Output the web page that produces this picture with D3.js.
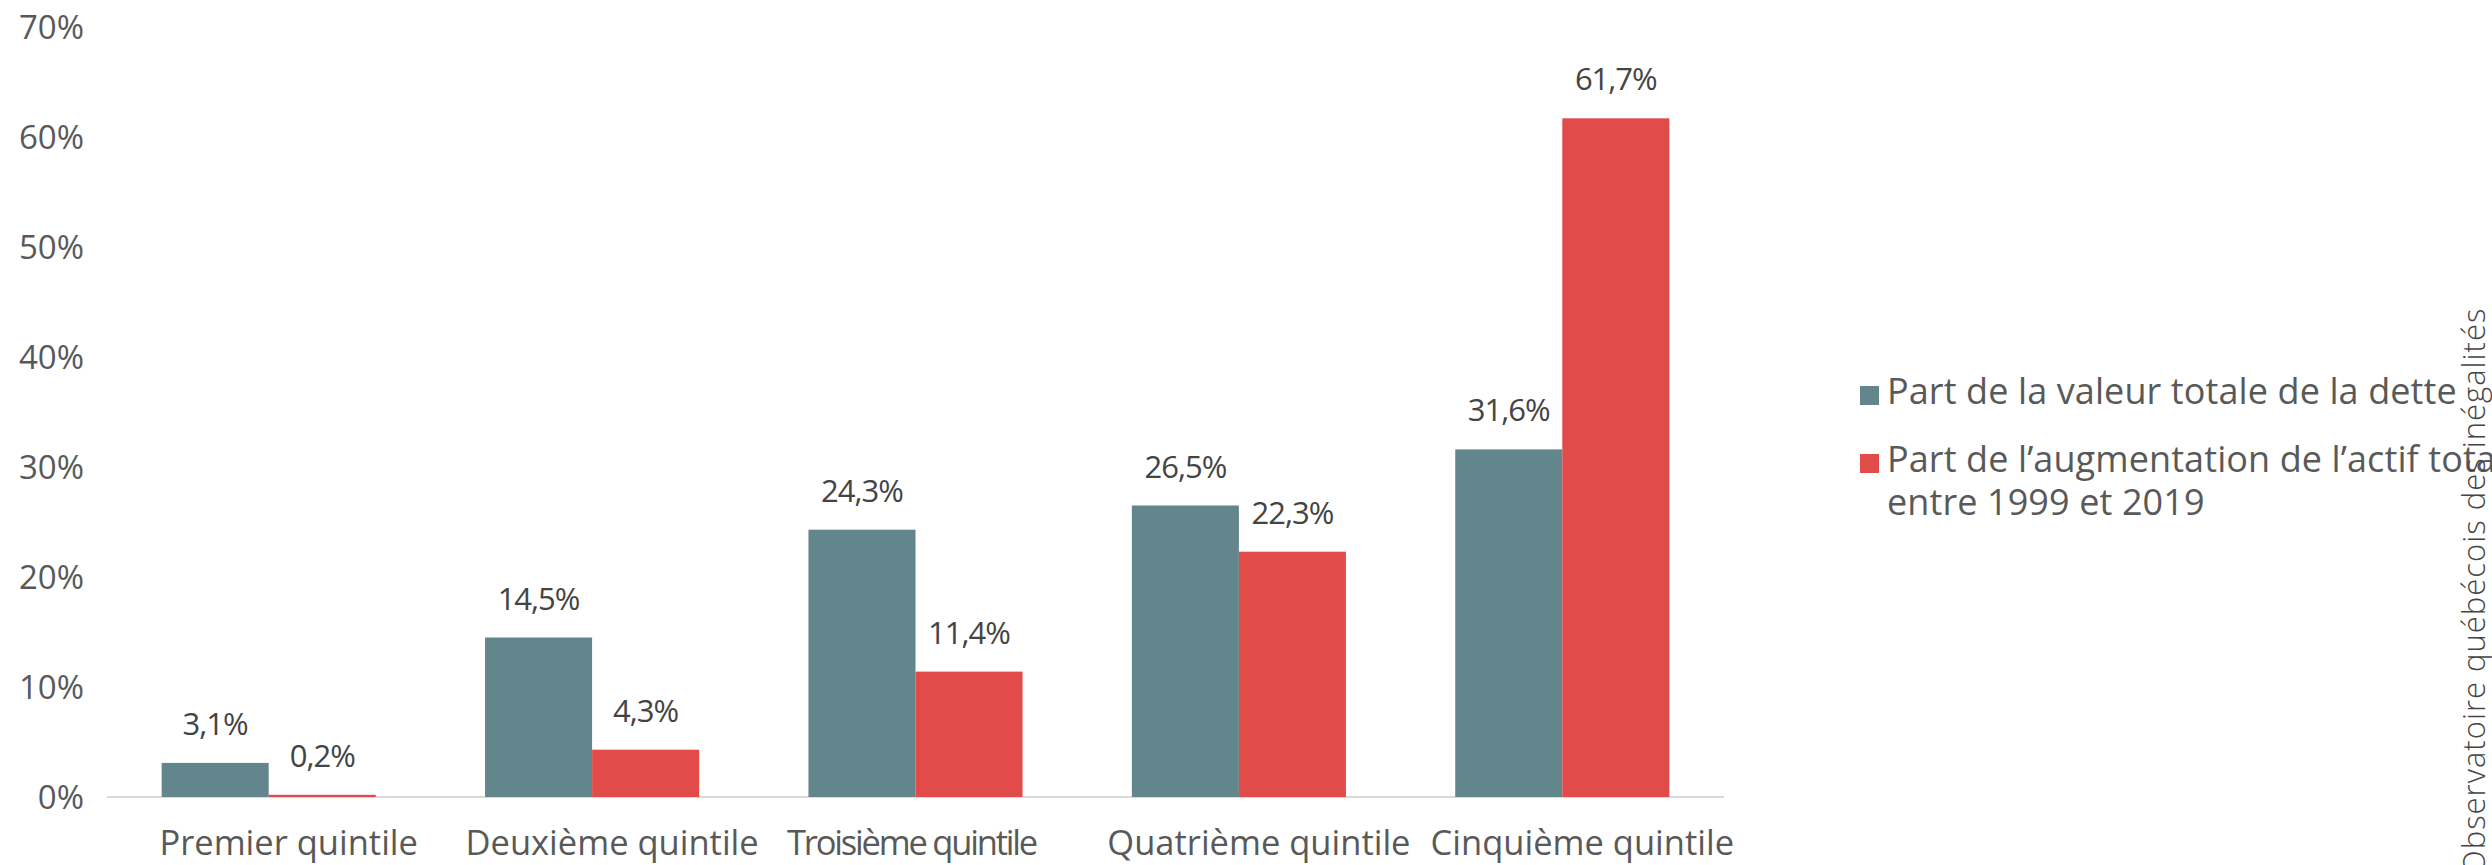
<!DOCTYPE html>
<html>
<head>
<meta charset="utf-8">
<script src="https://cdn.jsdelivr.net/npm/d3@7"></script>
<style>
  body{margin:0;background:#fff;}
  text{font-family:"Open Sans","Noto Sans",sans-serif;fill:#595959;}
</style>
</head>
<body>
<svg id="chart"></svg>
<script>
var quintiles=["Premier quintile","Deuxième quintile","Troisième quintile","Quatrième quintile","Cinquième quintile"]
var partDette=[3.1,14.5,24.3,26.5,31.6]
var partActif=[0.2,4.3,11.4,22.3,61.7]
var seriesNames=["Part de la valeur totale de la dette","Part de l’augmentation de l’actif total|entre 1999 et 2019"]
var seriesColors=["#62868c","#e14b4a"]
var yTicks=[0,10,20,30,40,50,60,70]

var screen={width:2492,height:865}
var svg=d3.select("#chart")
          .attr("width",screen.width)
          .attr("height",screen.height)

var x=d3.scaleBand()
        .domain(quintiles)
        .range([107,1724])
        .paddingInner(0.338)
        .paddingOuter(0.169)

var xInner=d3.scaleBand()
             .domain([0,1])
             .range([0,x.bandwidth()])

var y=d3.scaleLinear()
        .domain([0,70])
        .range([797,27])

var fmt=function(v){return d3.format(".1f")(v).replace(".",",")+"%";}

// y axis, labels only
var yAxis=svg.append("g")
             .attr("transform","translate(84,0)")
             .call(d3.axisLeft(y).tickValues(yTicks).tickSize(0).tickPadding(0)
                     .tickFormat(function(d){return d+"%";}))
yAxis.select(".domain").remove()
yAxis.selectAll("text")
     .attr("font-size",33)
     .attr("dy","0.36em")
     .style("font-family","\"Open Sans\",sans-serif")
     .style("fill","#595959")

// baseline
svg.append("line")
   .attr("x1",x.range()[0]).attr("x2",x.range()[1])
   .attr("y1",y(0)).attr("y2",y(0))
   .attr("stroke","#d9d9d9")
   .attr("stroke-width",2)

var rows=quintiles.map(function(q,i){return {q:q,vals:[partDette[i],partActif[i]]};})

var groups=svg.append("g")
              .selectAll("g")
              .data(rows)
              .enter()
              .append("g")
              .attr("transform",function(d){return "translate("+x(d.q)+",0)";})

groups.selectAll("rect")
      .data(function(d){return d.vals;})
      .enter()
      .append("rect")
      .attr("x",function(d,i){return xInner(i);})
      .attr("y",function(d){return y(d);})
      .attr("width",xInner.bandwidth())
      .attr("height",function(d){return y(0)-y(d);})
      .attr("fill",function(d,i){return seriesColors[i];})

groups.selectAll("text.val")
      .data(function(d){return d.vals;})
      .enter()
      .append("text")
      .classed("val",true)
      .text(fmt)
      .attr("x",function(d,i){return xInner(i)+xInner.bandwidth()/2;})
      .attr("y",function(d){return y(d)-28;})
      .attr("text-anchor","middle")
      .attr("font-size",31)
      .attr("letter-spacing",-1)
      .style("fill","#444")

// x labels (sit a bit right of the group centre, as in the original)
var xLabels=svg.append("g")
   .selectAll("text")
   .data(quintiles)
   .enter()
   .append("text")
   .text(function(d){return d;})
   .attr("x",function(d){return x(d)+x.bandwidth()/2+20;})
   .attr("y",855)
   .attr("text-anchor","middle")
   .attr("font-size",34.5)
// the third label is set tighter in the original
xLabels.filter(function(d,i){return i==2;})
       .attr("x",function(d){return x(d)+x.bandwidth()/2-4;})
       .attr("letter-spacing",-2.2)

// legend
var legend=svg.append("g")
var legendY=[404,472]
seriesNames.forEach(function(name,i)
{
  legend.append("rect")
        .attr("x",1860)
        .attr("y",legendY[i]-18)
        .attr("width",19)
        .attr("height",19)
        .attr("fill",seriesColors[i])
  name.split("|").forEach(function(line,j)
  {
    legend.append("text")
          .text(line)
          .attr("x",1887)
          .attr("y",legendY[i]+j*43)
          .attr("font-size",36)
          .attr("letter-spacing",0.1)
  })
})

// source credit, rotated
svg.append("text")
   .text("Observatoire québécois des inégalités")
   .attr("transform","translate(2485,874) rotate(-90)")
   .attr("font-size",31)
   .attr("font-weight",300)
   .attr("letter-spacing",1)
   .style("fill","#444")
</script>
</body>
</html>
